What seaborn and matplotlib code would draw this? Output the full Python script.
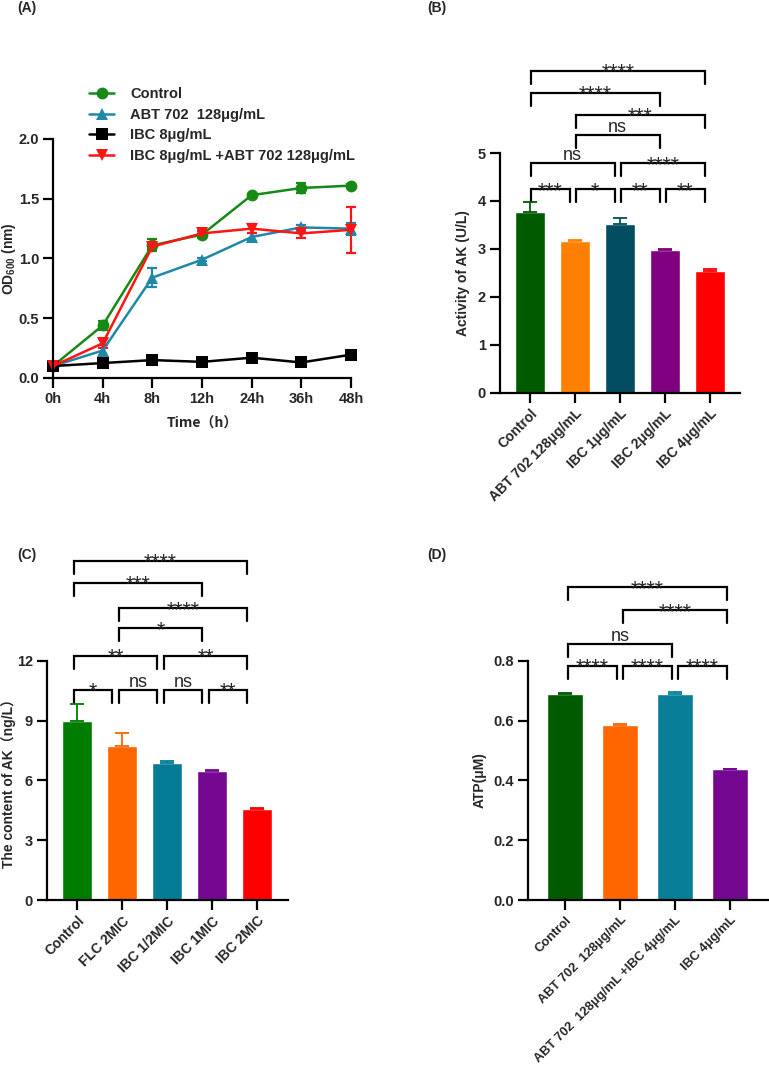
"""Four-panel figure: growth curves (A) and AK / ATP bar charts (B-D)."""

import matplotlib

matplotlib.use("Agg")

import matplotlib.pyplot as plt
import numpy as np
import pandas as pd
import seaborn as sns
from matplotlib.lines import Line2D

# ---------------- data ----------------
time_labels = ["0h", "4h", "8h", "12h", "24h", "36h", "48h"]

growth_groups = [
    "Control",
    "ABT 702  128μg/mL",
    "IBC 8μg/mL",
    "IBC 8μg/mL +ABT 702 128μg/mL",
]
od_control = [0.10, 0.44, 1.11, 1.20, 1.53, 1.59, 1.61]
od_abt = [0.10, 0.23, 0.84, 0.99, 1.18, 1.26, 1.25]
od_ibc = [0.10, 0.125, 0.15, 0.135, 0.17, 0.13, 0.195]
od_combo = [0.10, 0.29, 1.10, 1.21, 1.25, 1.21, 1.24]
sd_control = [0.0, 0.04, 0.05, 0.03, 0.01, 0.04, 0.01]
sd_abt = [0.0, 0.05, 0.08, 0.01, 0.03, 0.02, 0.05]
sd_ibc = [0.0, 0.01, 0.01, 0.01, 0.01, 0.01, 0.01]
sd_combo = [0.0, 0.04, 0.02, 0.02, 0.04, 0.04, 0.19]

ak_groups = ["Control", "ABT 702 128μg/mL", "IBC 1μg/mL", "IBC 2μg/mL", "IBC 4μg/mL"]
ak_activity = [3.77, 3.16, 3.51, 2.98, 2.53]
ak_activity_sd = [0.21, 0.02, 0.14, 0.02, 0.05]
ak_brackets = [
    (0, 1, "***", 4.24), (1, 2, "*", 4.24), (2, 3, "**", 4.24), (3, 4, "**", 4.24),
    (0, 2, "ns", 4.79), (2, 4, "****", 4.79),
    (1, 3, "ns", 5.37),
    (1, 4, "***", 5.80),
    (0, 3, "****", 6.26),
    (0, 4, "****", 6.72),
]

content_groups = ["Control", "FLC 2MIC", "IBC 1/2MIC", "IBC 1MIC", "IBC 2MIC"]
ak_content = [8.98, 7.71, 6.89, 6.47, 4.55]
ak_content_sd = [0.85, 0.65, 0.10, 0.05, 0.05]
content_brackets = [
    (0, 1, "*", 10.53), (1, 2, "ns", 10.53), (2, 3, "ns", 10.53), (3, 4, "**", 10.53),
    (0, 2, "**", 12.24), (2, 4, "**", 12.24),
    (1, 3, "*", 13.62),
    (1, 4, "****", 14.63),
    (0, 3, "***", 15.91),
    (0, 4, "****", 17.02),
]

atp_groups = [
    "Control",
    "ABT 702  128μg/mL",
    "ABT 702  128μg/mL +IBC 4μg/mL",
    "IBC 4μg/mL",
]
atp_level = [0.690, 0.585, 0.688, 0.437]
atp_sd = [0.003, 0.002, 0.006, 0.002]
atp_brackets = [
    (0, 1, "****", 0.783), (1, 2, "****", 0.783), (2, 3, "****", 0.783),
    (0, 2, "ns", 0.856),
    (1, 3, "****", 0.968),
    (0, 3, "****", 1.046),
]

# ---------------- style ----------------
growth_colors = ["#158a15", "#1f88a8", "#000000", "#ff1414"]
growth_markers = ["o", "^", "s", "v"]
ak_colors = ["#005a00", "#ff8000", "#034d61", "#7f007f", "#ff0000"]
content_colors = ["#007d00", "#ff6600", "#047c96", "#740891", "#ff0000"]
atp_colors = ["#005a00", "#ff6600", "#087e98", "#740891"]

W, H = 769, 1073
sns.set_theme(style="ticks")
plt.rcParams["font.family"] = ["Liberation Sans", "Noto Sans CJK SC", "DejaVu Sans"]
plt.rcParams["axes.linewidth"] = 1.6
plt.rcParams["axes.edgecolor"] = "black"

fig = plt.figure(figsize=(W / 100, H / 100), dpi=100)


def px_axes(left, top, right, bottom):
    return fig.add_axes([left / W, 1 - bottom / H, (right - left) / W, (bottom - top) / H])


def style_axes(ax, tick_len=7, xsize=10.5):
    sns.despine(ax=ax)
    ax.tick_params(axis="both", length=tick_len, width=1.6, color="black", pad=3)
    ax.tick_params(axis="y", labelsize=10.5)
    ax.tick_params(axis="x", labelsize=xsize)
    for lab in ax.get_yticklabels() + ax.get_xticklabels():
        lab.set_fontweight("bold")


def draw_brackets(ax, brackets, shift, gap, drop_px=13):
    y0, y1 = ax.get_ylim()
    per_px = (y1 - y0) / (ax.get_position().height * H)
    drop = drop_px * per_px
    for i, j, label, y in brackets:
        xa, xb = i + shift + gap, j + shift - gap
        ax.plot([xa, xa, xb, xb], [y - drop, y, y, y - drop], color="black",
                lw=1.6, clip_on=False, solid_joinstyle="miter")
        if label == "ns":
            ax.annotate(label, ((xa + xb) / 2, y), xytext=(0, 2), textcoords="offset points",
                        ha="center", va="baseline", fontsize=13, annotation_clip=False)
        else:
            ax.annotate(label, ((xa + xb) / 2, y), xytext=(0, -5.5), textcoords="offset points",
                        ha="center", va="baseline", fontsize=15.5, annotation_clip=False)


def bar_panel(ax, groups, values, errors, colors, xlim, ylim, yticks, ylabel, label_x,
              width, xsize=10):
    df = pd.DataFrame({"group": groups, "value": values})
    sns.barplot(data=df, x="group", y="value", hue="group", order=groups,
                hue_order=groups, palette=colors, legend=False, errorbar=None,
                width=width, saturation=1, ax=ax)
    for k, (v, e) in enumerate(zip(values, errors)):
        ax.errorbar(k, v, yerr=[[0], [e]], fmt="none", ecolor=colors[k],
                    elinewidth=1.3, capsize=5, capthick=1.3, zorder=3)
    ax.set_xlim(*xlim)
    ax.set_ylim(*ylim)
    ax.set_yticks(yticks)
    ax.set_xticks(range(len(groups)))
    ax.set_xticklabels(groups, rotation=45, ha="right", rotation_mode="anchor")
    ax.set_xlabel("")
    ax.set_ylabel(ylabel, fontsize=10, fontweight="bold")
    ax.yaxis.set_label_coords(label_x, 0.5)
    style_axes(ax, tick_len=7, xsize=xsize)


# ---------------- (A) growth curves ----------------
axA = px_axes(53, 139, 351, 378)
series = [od_control, od_abt, od_ibc, od_combo]
errs = [sd_control, sd_abt, sd_ibc, sd_combo]
long = pd.DataFrame({
    "t": np.tile(np.arange(len(time_labels)), len(growth_groups)),
    "od": np.concatenate(series),
    "group": np.repeat(growth_groups, len(time_labels)),
})
sns.lineplot(data=long, x="t", y="od", hue="group", style="group",
             hue_order=growth_groups, style_order=growth_groups,
             palette=growth_colors, markers=growth_markers, dashes=False,
             markersize=8.5, markeredgewidth=0, linewidth=1.8, legend=False, ax=axA)
for k, (vals, sd) in enumerate(zip(series, errs)):
    axA.errorbar(np.arange(len(time_labels)), vals, yerr=sd, fmt="none",
                 ecolor=growth_colors[k], elinewidth=1.6, capsize=3.5, capthick=1.6,
                 clip_on=False, zorder=1.5)
for ln in axA.lines:
    ln.set_clip_on(False)
axA.set_xlim(0, 6)
axA.set_ylim(0, 2.0)
axA.set_yticks([0, 0.5, 1.0, 1.5, 2.0])
axA.set_yticklabels(["0.0", "0.5", "1.0", "1.5", "2.0"])
axA.set_xticks(range(len(time_labels)))
axA.set_xticklabels(time_labels)
axA.set_xlabel("Time（h）", fontsize=10, fontweight="bold",
               family=["Noto Sans CJK SC", "DejaVu Sans"])
axA.xaxis.set_label_coords(0.5, -0.16)
axA.set_ylabel(r"OD$_{\mathregular{600}}$ (nm)", fontsize=10, fontweight="bold")
axA.yaxis.set_label_coords(-0.118, 0.5)
style_axes(axA, tick_len=7)

handles = [
    Line2D([0], [0], color=c, marker=m, markersize=8.5, markeredgewidth=0, lw=1.8)
    for c, m in zip(growth_colors, growth_markers)
]
fig.legend(handles, growth_groups, loc="upper left", bbox_to_anchor=(76 / W, 1 - 74 / H),
           frameon=False, prop={"size": 10.5, "weight": "bold"}, handlelength=1.7,
           handletextpad=1.1, labelspacing=0.45)

# ---------------- (B) AK activity ----------------
axB = px_axes(500, 153, 740, 392.7)
bar_panel(axB, ak_groups, ak_activity, ak_activity_sd, ak_colors,
          (-0.667, 4.667), (0, 5), [0, 1, 2, 3, 4, 5], "Activity of AK (U/L)", -0.125,
          0.667)
draw_brackets(axB, ak_brackets, shift=-0.05, gap=0.07)

# ---------------- (C) AK content ----------------
axC = px_axes(47, 660.7, 288, 900)
bar_panel(axC, content_groups, ak_content, ak_content_sd, content_colors,
          (-0.673, 4.68), (0, 12), [0, 3, 6, 9, 12], "The content of AK（ng/L）", -0.128,
          0.667)
draw_brackets(axC, content_brackets, shift=-0.15, gap=0.07)

# ---------------- (D) ATP ----------------
axD = px_axes(528, 660.7, 780, 900)
bar_panel(axD, atp_groups, atp_level, atp_sd, atp_colors,
          (-0.673, 3.91), (0, 0.8), [0, 0.2, 0.4, 0.6, 0.8], "ATP(μM)", -0.163, 0.66,
          xsize=9.3)
axD.set_yticklabels(["0.0", "0.2", "0.4", "0.6", "0.8"], fontweight="bold")
draw_brackets(axD, atp_brackets, shift=0.0, gap=0.05)

for txt, x, y in [("(A)", 17, 8), ("(B)", 427, 8), ("(C)", 17, 555), ("(D)", 427, 555)]:
    fig.text(x / W, 1 - y / H, txt, ha="left", va="center", fontsize=10,
             fontweight="bold")

fig.savefig("out.png", dpi=100)
